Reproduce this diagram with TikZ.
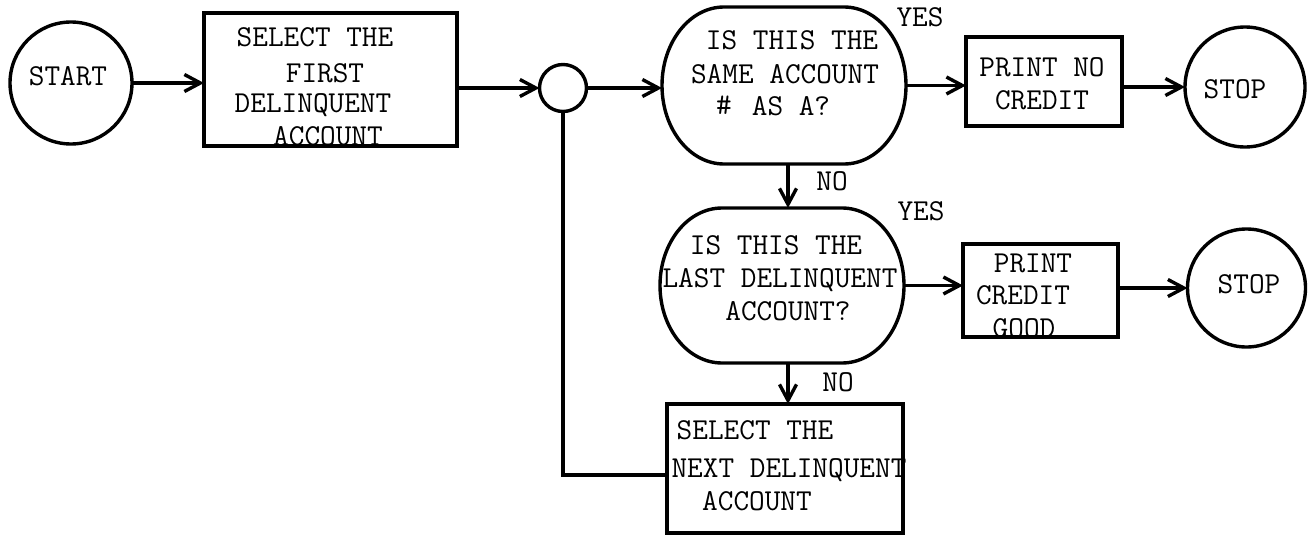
\documentclass[tikz,border=0pt]{standalone}
\usetikzlibrary{arrows.meta,calc}
\newcommand\decoutline[2]{%
  \draw[ln] ($(#1.north west)+(62,0)$) -- ($(#1.north east)+(-62,0)$)
    arc[start angle=90,end angle=-90,x radius=62pt,y radius=#2pt]
    -- ($(#1.south west)+(62,0)$)
    arc[start angle=270,end angle=90,x radius=62pt,y radius=#2pt] -- cycle;}
\begin{document}
\begin{tikzpicture}[x={(1pt,0pt)}, y={(0pt,-1pt)},
  ln/.style={line width=3.4pt},
  arr/.style={ln, -{Straight Barb[length=16pt,width=17pt]}},
  box/.style={draw, ln, rectangle, inner sep=0pt, outer sep=0pt},
  rnd/.style={draw, ln, circle, inner sep=0pt, outer sep=0pt},
  dec/.style={rectangle, inner sep=0pt, outer sep=0pt},
  txt/.style={inner sep=0pt, anchor=base, font=\fontsize{30.4}{33}\selectfont\ttfamily}]
\useasboundingbox[fill=white] (0,0) rectangle (1309,535);

% shapes
\node[rnd, minimum size=122pt] (start) at (71,83) {};
\node[box, minimum width=253pt, minimum height=133pt] (b1) at (330.5,79.5) {};
\node[rnd, minimum size=47pt] (j) at (563,88) {};
\node[dec, minimum width=244pt, minimum height=157pt] (d1) at (784,85.5) {};
\decoutline{d1}{78.5}
\node[box, minimum width=156pt, minimum height=89pt] (p1) at (1044,81.5) {};
\node[rnd, minimum size=120pt] (s1) at (1245,87) {};
\node[dec, minimum width=244pt, minimum height=155pt] (d2) at (782,285.5) {};
\decoutline{d2}{77.5}
\node[box, minimum width=155pt, minimum height=93pt] (p2) at (1040.5,290.5) {};
\node[rnd, minimum size=118pt] (s2) at (1246.5,288) {};
\node[box, minimum width=236pt, minimum height=129pt] (b3) at (785,468.5) {};

% connectors
\draw[arr] (start.east) -- (start.east -| b1.west);
\draw[arr] (j.west -| b1.east) -- (j.west);
\draw[arr] (j.east) -- (j.east -| d1.west);
\draw[arr] (d1.east) -- (d1.east -| p1.west);
\draw[arr] (s1.west -| p1.east) -- (s1.west);
\coordinate (a1) at ($(d1.south)+(4,0)$);
\draw[arr] (a1) -- (a1 |- d2.north);
\draw[arr] (d2.east) -- (d2.east -| p2.west);
\draw[arr] (s2.west -| p2.east) -- (s2.west);
\coordinate (a2) at ($(d2.south)+(6,0)$);
\draw[arr] (a2) -- (a2 |- b3.north);
\coordinate (lp) at ($(b3.west)+(0,6.5)$);
\draw[ln] (lp) -| (j.south);

% texts
\node[txt] (tS) at (68,85) {START};
\node[txt] (b1a) at (315,47) {SELECT THE};
\node[txt] (b1b) at (325,82) {FIRST};
\node[txt] (b1c) at (313,112) {DELINQUENT};
\node[txt] (b1d) at (328,145) {ACCOUNT};
\node[txt] (d1a) at (792,50) {IS THIS THE};
\node[txt] (d1b) at (785,83) {SAME ACCOUNT};
\node[txt] (d1c) at (791,115) {AS A?};
\node[txt] (d1h) at (724,114) {\#};
\node[txt] (y1) at (920,27) {YES};
\node[txt] (n1) at (832,190) {NO};
\node[txt] (p1a) at (1042,77) {PRINT NO};
\node[txt] (p1b) at (1042,110) {CREDIT};
\node[txt] (s1t) at (1235,98) {STOP};
\node[txt] (d2a) at (776,254) {IS THIS THE};
\node[txt] (d2b) at (780,287) {LAST DELINQUENT};
\node[txt] (d2c) at (788,320) {ACCOUNT?};
\node[txt] (y2) at (921,220) {YES};
\node[txt] (n2) at (838,391) {NO};
\node[txt] (p2a) at (1033,272) {PRINT};
\node[txt] (p2b) at (1023,304) {CREDIT};
\node[txt] (p2c) at (1024,337) {GOOD};
\node[txt] (s2t) at (1249,293) {STOP};
\node[txt] (b3a) at (755,439) {SELECT THE};
\node[txt] (b3b) at (789,477) {NEXT DELINQUENT};
\node[txt] (b3c) at (757,510) {ACCOUNT};
\end{tikzpicture}
\end{document}
